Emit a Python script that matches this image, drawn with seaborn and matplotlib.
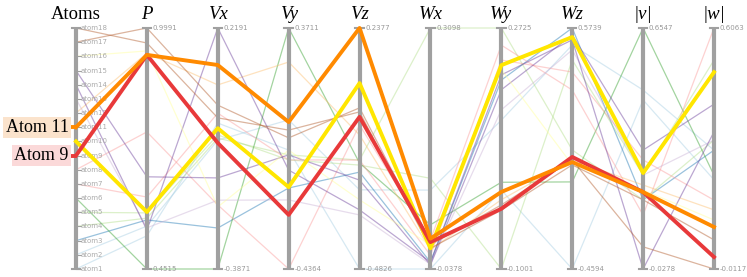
import numpy as np
import pandas as pd
import matplotlib
matplotlib.use("Agg")
import matplotlib.pyplot as plt
import seaborn as sns

# ---------------- data ----------------
atoms = [f"atom{i}" for i in range(1, 19)]
dims = ["P", "Vx", "Vy", "Vz", "Wx", "Wy", "Wz", "|v|", "|w|"]
dim_min = [0.4515, -0.3871, -0.4364, -0.4826, -0.0378, -0.1001, -0.4594, -0.0278, -0.0117]
dim_max = [0.9991, 0.2191, 0.3711, 0.2377, 0.3098, 0.2725, 0.5739, 0.6547, 0.6063]
min_labels = ["0.4515", "-0.3871", "-0.4364", "-0.4826", "-0.0378", "-0.1001", "-0.4594", "-0.0278", "-0.0117"]
max_labels = ["0.9991", "0.2191", "0.3711", "0.2377", "0.3098", "0.2725", "0.5739", "0.6547", "0.6063"]

P = [0.527, 0.549, 0.563, 0.567, 0.579, 0.4515, 0.615, 0.763, 0.938,
     0.581, 0.938, 0.942, 0.545, 0.540, 0.661, 0.947, 0.9991, 0.965]
Vx = [-0.020, -0.063, -0.284, -0.058, -0.050, -0.3871, 0.005, -0.226, -0.070,
      -0.033, 0.126, 0.076, -0.214, 0.2191, -0.158, -0.231, 0.025, -0.007]
Vy = [-0.038, 0.063, -0.165, -0.054, -0.071, 0.3711, -0.071, -0.4364, -0.255,
      -0.162, 0.056, 0.257, -0.205, -0.105, -0.054, -0.038, 0.003, 0.029]
Vz = [-0.4826, -0.246, -0.193, -0.157, -0.172, -0.166, -0.157, -0.052, -0.028,
      0.073, 0.2377, -0.082, -0.321, -0.306, -0.217, -0.276, -0.001, -0.013]
Wx = [-0.0378, 0.076, -0.028, 0.3098, 0.093, 0.026, -0.018, 0.004, 0.001,
      -0.008, 0.006, -0.010, -0.031, -0.028, -0.032, -0.003, -0.003, -0.008]
Wy = [0.022, 0.130, 0.192, 0.2725, -0.1001, 0.034, 0.223, 0.246, -0.007,
      0.215, 0.019, 0.007, 0.146, 0.200, 0.177, 0.208, -0.001, -0.009]
Wz = [-0.4594, 0.501, 0.5739, 0.051, 0.437, -0.086, 0.385, 0.308, 0.021,
      0.535, -0.001, 0.008, 0.480, 0.523, 0.544, -0.013, 0.008, -0.013]
Vabs = [0.451, 0.479, 0.168, 0.168, 0.238, 0.6547, 0.281, 0.125, 0.190,
        0.244, 0.190, 0.210, 0.238, -0.0278, 0.309, 0.196, 0.035, 0.168]
Wabs = [0.217, 0.293, 0.293, 0.319, 0.524, 0.229, 0.165, 0.6063, 0.019,
        0.493, 0.096, 0.140, 0.319, 0.340, 0.411, 0.114, -0.0117, 0.063]

colors = ["#a6cee3", "#a6cee3", "#1f78b4", "#b2df8a", "#b2df8a", "#33a02c",
          "#fb9a99", "#fb9a99", "#e8393a", "#ffe600", "#ff8a00", "#fdbf6f",
          "#cab2d6", "#6a3d9a", "#6a3d9a", "#ffff99", "#b15928", "#b15928"]
highlight = ["atom10", "atom9", "atom11"]

# ---------------- long table ----------------
series = [P, Vx, Vy, Vz, Wx, Wy, Wz, Vabs, Wabs]
rows = []
for i, a in enumerate(atoms):
    rows.append((a, 0, i / (len(atoms) - 1)))
    for j, vals in enumerate(series):
        pos = (vals[i] - dim_min[j]) / (dim_max[j] - dim_min[j])
        rows.append((a, j + 1, pos))
df = pd.DataFrame(rows, columns=["atom", "axis", "pos"])
palette = dict(zip(atoms, colors))

# ---------------- figure ----------------
W, H = 747, 277
fig = plt.figure(figsize=(W / 100, H / 100), dpi=100)
ax = fig.add_axes([0, 0, 1, 1])
px = 70.89          # pixels per axis step
x0 = 76             # pixel of first axis
ypix = 241          # pixels per unit of pos
ax.set_xlim(-x0 / px, 9 + (W - 714) / px)
ax.set_ylim(-(H - 269) / ypix, 1 + 28 / ypix)
ax.axis("off")

bg = df[~df.atom.isin(highlight)]
sns.lineplot(data=bg, x="axis", y="pos", hue="atom", units="atom", estimator=None,
             sort=False, palette=palette, linewidth=0.9, alpha=0.45, legend=False, ax=ax)

# vertical axes
axis_col = "#a0a0a0"
for k in range(10):
    ax.plot([k, k], [0, 1], color=axis_col, lw=3.0, solid_capstyle="butt", zorder=3)
    ax.plot([k - 0.06, k + 0.06], [1, 1], color=axis_col, lw=1.5, zorder=3)
    ax.plot([k - 0.06, k + 0.06], [0, 0], color=axis_col, lw=1.5, zorder=3)

# atom ticks
for i, a in enumerate(atoms):
    y = i / (len(atoms) - 1)
    ax.plot([0.0, 0.07], [y, y], color=axis_col, lw=0.8, zorder=3)
    ax.text(0.07, y, a, fontsize=5, color="#aaaaaa", va="center", ha="left", zorder=4)

# min/max labels
for j in range(9):
    ax.text(j + 1 + 0.08, 1, max_labels[j], fontsize=5, color="#999999", va="center", ha="left", zorder=4)
    ax.text(j + 1 + 0.08, 0, min_labels[j], fontsize=5, color="#999999", va="center", ha="left", zorder=4)

# headers
serif = ["Liberation Serif", "DejaVu Serif"]
ax.text(0, 1 + 14 / ypix, "Atoms", fontsize=13.5, family=serif, ha="center", va="center")
for j, d in enumerate(dims):
    ax.text(j + 1, 1 + 14 / ypix, d, fontsize=13.5, family=serif, style="italic", ha="center", va="center")

# highlighted lines
for a in highlight:
    sub = df[df.atom == a]
    sns.lineplot(data=sub, x="axis", y="pos", color=palette[a], estimator=None, sort=False,
                 linewidth=2.8, legend=False, ax=ax, zorder=5)

# annotation boxes
boxes = {"atom11": ("Atom 11", "#fbe3cc"), "atom9": ("Atom 9", "#fbd9d9")}
for a, (label, bcol) in boxes.items():
    i = atoms.index(a)
    y = i / (len(atoms) - 1)
    ax.plot([-0.1, 0], [y, y], color=palette[a], lw=2.8, zorder=5, solid_capstyle="butt")
    ax.text(-0.105, y, label, fontsize=13, family=serif, ha="right", va="center", zorder=6,
            bbox=dict(boxstyle="square,pad=0.12", fc=bcol, ec="none"))

fig.savefig("out.png", dpi=100)
